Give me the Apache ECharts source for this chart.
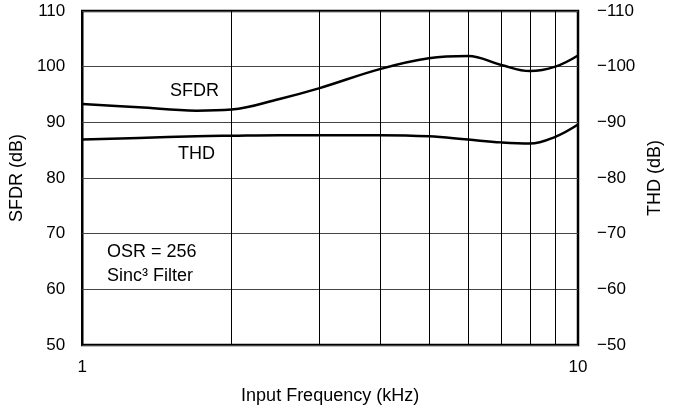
<!DOCTYPE html>
<html>
<head>
<meta charset="utf-8">
<script src="https://cdn.jsdelivr.net/npm/echarts@6/dist/echarts.min.js"></script>
<style>
	html, body { margin: 0; padding: 0; background: #fff; }
	#chart { width: 674px; height: 410px; }
</style>
</head>
<body>
<div id="chart"></div>
<script>
	// input frequency (kHz)
	const freq = [1, 1.3, 1.7, 2, 2.5, 3, 4, 5, 6, 7, 8, 9, 10];
	// SFDR (dB), left axis
	const sfdr = [93.3, 92.7, 92.1, 92.3, 94.2, 96.1, 99.6, 101.5, 101.9, 100.3, 99.2, 100.0, 102.0];
	// THD (dB), right axis (inverted)
	const thd = [-86.9, -87.2, -87.5, -87.6, -87.7, -87.7, -87.7, -87.5, -86.9, -86.4, -86.2, -87.4, -89.6];
	// vertical grid lines inside the decade
	const minorFreq = [2, 3, 4, 5, 6, 7, 8, 9];
	const leftTicks = [50, 60, 70, 80, 90, 100, 110];

	const chart = echarts.init(document.getElementById('chart'));
	const font = 'Liberation Sans, Arial, sans-serif';

	const option = {
		animation: false,
		grid: {
			left: 82,
			right: 96,
			top: 11,
			bottom: 64,
			show: true,
			borderColor: '#000',
			borderWidth: 2.5
		},
		xAxis: {
			type: 'log',
			logBase: 10,
			min: 1,
			max: 10,
			name: 'Input Frequency (kHz)',
			nameLocation: 'middle',
			nameGap: 42,
			nameTextStyle: { fontFamily: font, fontSize: 18, color: '#000' },
			axisLine: { show: false },
			axisTick: { show: false },
			splitLine: { show: false },
			axisLabel: { fontFamily: font, fontSize: 17, color: '#000', margin: 14 }
		},
		yAxis: [{
			type: 'value',
			min: leftTicks[0],
			max: leftTicks[leftTicks.length - 1],
			interval: 10,
			name: 'SFDR (dB)',
			nameLocation: 'middle',
			nameGap: 51,
			nameRotate: 90,
			nameTextStyle: { fontFamily: font, fontSize: 18, color: '#000' },
			axisLine: { show: false },
			axisTick: { show: false },
			axisLabel: { fontFamily: font, fontSize: 17, color: '#000', margin: 17 },
			splitLine: { lineStyle: { color: '#444', width: 1 } }
		}, {
			type: 'value',
			min: -110,
			max: -50,
			interval: 10,
			inverse: true,
			position: 'right',
			name: 'THD (dB)',
			nameLocation: 'middle',
			nameGap: 67,
			nameRotate: 90,
			nameTextStyle: { fontFamily: font, fontSize: 18, color: '#000' },
			axisLine: { show: false },
			axisTick: { show: false },
			axisLabel: {
				fontFamily: font, fontSize: 17, color: '#000', margin: 19,
				formatter: v => String(v).replace('-', '\u2212')
			},
			splitLine: { show: false }
		}],
		series: [{
			name: 'SFDR',
			type: 'line',
			yAxisIndex: 0,
			smooth: 0.4,
			symbol: 'none',
			lineStyle: { color: '#000', width: 2.5 },
			data: freq.map((f, i) => [f, sfdr[i]]),
			markLine: {
				silent: true,
				symbol: 'none',
				label: { show: false },
				lineStyle: { color: '#000', width: 1, type: 'solid' },
				data: minorFreq.map(f => ({ xAxis: f }))
			},
			z: 3
		}, {
			name: 'THD',
			type: 'line',
			yAxisIndex: 1,
			smooth: 0.4,
			symbol: 'none',
			lineStyle: { color: '#000', width: 2.5 },
			data: freq.map((f, i) => [f, thd[i]]),
			z: 3
		}],
		graphic: [
			{ type: 'text', left: 170, top: 82, style: { text: 'SFDR', font: '18px ' + font, fill: '#000' } },
			{ type: 'text', left: 178, top: 145, style: { text: 'THD', font: '18px ' + font, fill: '#000' } },
			{ type: 'text', left: 107, top: 243, style: { text: 'OSR = 256', font: '18px ' + font, fill: '#000' } },
			{ type: 'text', left: 107, top: 267, style: { text: 'Sinc\u00b3 Filter', font: '18px ' + font, fill: '#000' } }
		]
	};

	chart.setOption(option);
</script>
</body>
</html>
